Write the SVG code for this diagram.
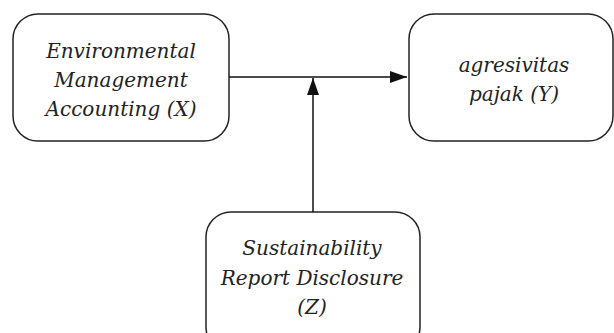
<svg xmlns="http://www.w3.org/2000/svg" width="614" height="333" viewBox="0 0 614 333">
<defs>
<style>
.box{fill:#fff;stroke:#222;stroke-width:1.5}
.t{font-family:"DejaVu Serif","Liberation Serif",serif;font-style:italic;font-size:20px;fill:#222;text-anchor:middle}
.c{stroke:#111;stroke-width:1.5;fill:none}
</style>
<marker id="ah" markerWidth="17" markerHeight="12" refX="17" refY="6" orient="auto" markerUnits="userSpaceOnUse">
<path d="M0,0 L17,6 L0,12 Z" fill="#111"/>
</marker>
</defs>
<rect width="614" height="333" fill="#fff"/>
<g id="nodeX">
<rect class="box" x="13" y="14" width="216" height="127" rx="25"/>
<text class="t" x="121" y="58">Environmental</text>
<text class="t" x="121" y="87">Management</text>
<text class="t" x="121" y="116">Accounting (X)</text>
</g>
<g id="nodeY">
<rect class="box" x="409" y="14" width="204" height="127" rx="25"/>
<text class="t" x="514" y="72">agresivitas</text>
<text class="t" x="514" y="101">pajak (Y)</text>
</g>
<g id="nodeZ">
<rect class="box" x="206" y="212" width="214" height="140" rx="25"/>
<text class="t" x="312" y="255">Sustainability</text>
<text class="t" x="312" y="285">Report Disclosure</text>
<text class="t" x="312" y="314">(Z)</text>
</g>
<g id="connectors">
<line class="c" x1="229" y1="77" x2="407" y2="77" marker-end="url(#ah)"/>
<line class="c" x1="313" y1="212" x2="313" y2="78" marker-end="url(#ah)"/>
</g>
</svg>
